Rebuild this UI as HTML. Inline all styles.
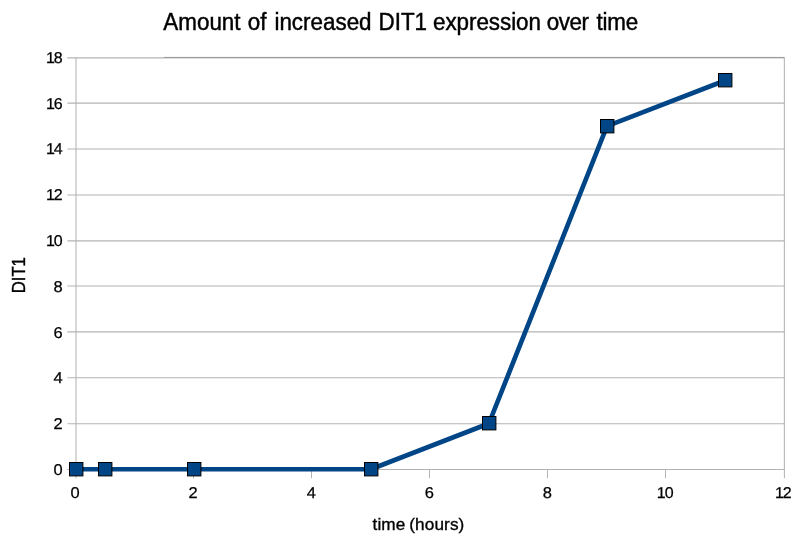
<!DOCTYPE html>
<html lang="en">
<head>
<meta charset="utf-8">
<title>Amount of increased DIT1 expression over time</title>
<style>
html,body{margin:0;padding:0;background:#fff;}
body{width:800px;height:544px;overflow:hidden;}
svg{display:block;}
text{font-family:'Liberation Sans', sans-serif;fill:#000;stroke:#000;stroke-width:0.25px;}
</style>
</head>
<body>
<svg width="800" height="544" viewBox="0 0 800 544">
<rect x="0" y="0" width="800" height="544" fill="#ffffff"/>
<g stroke="#b3b3b3" stroke-width="1.1" fill="none">
<line x1="67.4" y1="469.50" x2="784.90" y2="469.50" stroke-width="1.1"/>
<line x1="67.4" y1="423.75" x2="784.90" y2="423.75"/>
<line x1="67.4" y1="377.75" x2="784.90" y2="377.75"/>
<line x1="67.4" y1="331.85" x2="784.90" y2="331.85"/>
<line x1="67.4" y1="286.00" x2="784.90" y2="286.00"/>
<line x1="67.4" y1="240.85" x2="784.90" y2="240.85"/>
<line x1="67.4" y1="195.00" x2="784.90" y2="195.00"/>
<line x1="67.4" y1="149.00" x2="784.90" y2="149.00"/>
<line x1="67.4" y1="103.10" x2="784.90" y2="103.10"/>
<line x1="67.4" y1="57.90" x2="784.90" y2="57.90"/>
<line x1="76.00" y1="57.85" x2="76.00" y2="469.45" stroke-width="1.05"/>
<line x1="784.35" y1="57.85" x2="784.35" y2="469.45" stroke-width="1.05"/>
<line x1="76.00" y1="469.45" x2="76.00" y2="478.20" stroke-width="1.05"/>
<line x1="193.50" y1="469.45" x2="193.50" y2="478.20" stroke-width="1.05"/>
<line x1="311.50" y1="469.45" x2="311.50" y2="478.20" stroke-width="1.05"/>
<line x1="429.50" y1="469.45" x2="429.50" y2="478.20" stroke-width="1.05"/>
<line x1="547.50" y1="469.45" x2="547.50" y2="478.20" stroke-width="1.05"/>
<line x1="665.50" y1="469.45" x2="665.50" y2="478.20" stroke-width="1.05"/>
<line x1="784.40" y1="469.45" x2="784.40" y2="478.20" stroke-width="1.05"/>
</g>
<rect x="164" y="55" width="622" height="4.5" fill="#ffffff"/>
<rect x="164" y="57" width="620.6" height="1" fill="#9e9e9e"/>
<rect x="164" y="58" width="620" height="1" fill="#dedede"/>
<rect x="164" y="56" width="620" height="1" fill="#f7f7f7"/>
<line x1="784.35" y1="57.6" x2="784.35" y2="60" stroke="#b3b3b3" stroke-width="1.05"/>
<polyline points="75.60,469.25 105.12,469.25 193.68,469.25 370.81,469.25 488.89,423.50 606.98,126.20 725.06,80.47" fill="none" stroke="#004586" stroke-width="4.65" stroke-linejoin="round" stroke-linecap="round"/>
<rect x="69.5" y="462.5" width="13.4" height="13.4" fill="#004586" stroke="#000" stroke-width="1"/>
<rect x="98.5" y="462.5" width="13.4" height="13.4" fill="#004586" stroke="#000" stroke-width="1"/>
<rect x="187.5" y="462.5" width="13.4" height="13.4" fill="#004586" stroke="#000" stroke-width="1"/>
<rect x="364.5" y="462.5" width="13.4" height="13.4" fill="#004586" stroke="#000" stroke-width="1"/>
<rect x="482.5" y="416.5" width="13.4" height="13.4" fill="#004586" stroke="#000" stroke-width="1"/>
<rect x="600.5" y="119.5" width="13.4" height="13.4" fill="#004586" stroke="#000" stroke-width="1"/>
<rect x="718.5" y="73.5" width="13.4" height="13.4" fill="#004586" stroke="#000" stroke-width="1"/>
<text transform="translate(62.70,475.00) scale(1.05,1)" font-size="15.7" text-anchor="end" text-rendering="geometricPrecision">0</text>
<text transform="translate(62.70,429.00) scale(1.05,1)" font-size="15.7" text-anchor="end" text-rendering="geometricPrecision">2</text>
<text transform="translate(62.70,383.00) scale(1.05,1)" font-size="15.7" text-anchor="end" text-rendering="geometricPrecision">4</text>
<text transform="translate(62.70,338.00) scale(1.05,1)" font-size="15.7" text-anchor="end" text-rendering="geometricPrecision">6</text>
<text transform="translate(62.70,292.00) scale(1.05,1)" font-size="15.7" text-anchor="end" text-rendering="geometricPrecision">8</text>
<text transform="translate(61.68,246.00) scale(1.02,1)" font-size="15.7" text-anchor="end" text-rendering="geometricPrecision" letter-spacing="-1.0">10</text>
<text transform="translate(61.68,200.00) scale(1.02,1)" font-size="15.7" text-anchor="end" text-rendering="geometricPrecision" letter-spacing="-1.0">12</text>
<text transform="translate(61.68,154.00) scale(1.02,1)" font-size="15.7" text-anchor="end" text-rendering="geometricPrecision" letter-spacing="-1.0">14</text>
<text transform="translate(61.68,109.00) scale(1.02,1)" font-size="15.7" text-anchor="end" text-rendering="geometricPrecision" letter-spacing="-1.0">16</text>
<text transform="translate(61.68,63.00) scale(1.02,1)" font-size="15.7" text-anchor="end" text-rendering="geometricPrecision" letter-spacing="-1.0">18</text>
<text transform="translate(75.10,498.00) scale(1.05,1)" font-size="15.7" text-anchor="middle" text-rendering="geometricPrecision">0</text>
<text transform="translate(193.18,498.00) scale(1.05,1)" font-size="15.7" text-anchor="middle" text-rendering="geometricPrecision">2</text>
<text transform="translate(311.27,498.00) scale(1.05,1)" font-size="15.7" text-anchor="middle" text-rendering="geometricPrecision">4</text>
<text transform="translate(429.35,498.00) scale(1.05,1)" font-size="15.7" text-anchor="middle" text-rendering="geometricPrecision">6</text>
<text transform="translate(547.43,498.00) scale(1.05,1)" font-size="15.7" text-anchor="middle" text-rendering="geometricPrecision">8</text>
<text transform="translate(664.71,498.00) scale(1.02,1)" font-size="15.7" text-anchor="middle" text-rendering="geometricPrecision" letter-spacing="-1.0">10</text>
<text transform="translate(782.79,498.00) scale(1.02,1)" font-size="15.7" text-anchor="middle" text-rendering="geometricPrecision" letter-spacing="-1.0">12</text>
<text transform="translate(0,30) scale(0.926,1)" font-size="24.2" style="stroke-width:0.45px" xml:space="preserve"><tspan x="176.40">Amount </tspan><tspan x="267.56">of </tspan><tspan x="296.35">increased </tspan><tspan x="408.76">DIT1 </tspan><tspan x="467.63" letter-spacing="-0.05">expression </tspan><tspan x="590.42" letter-spacing="-0.45">over </tspan><tspan x="644.20" letter-spacing="-0.2">time</tspan></text>
<text transform="translate(0,530)" font-size="17.2" style="stroke-width:0.35px" xml:space="preserve"><tspan x="372.5" letter-spacing="0.1">time </tspan><tspan x="409.3" letter-spacing="0.1">(hours)</tspan></text>
<text transform="translate(25.1,293.3) rotate(-90) scale(0.95,1)" font-size="17.6" text-anchor="start" style="stroke-width:0.4px">DIT1</text>
</svg>
</body>
</html>
